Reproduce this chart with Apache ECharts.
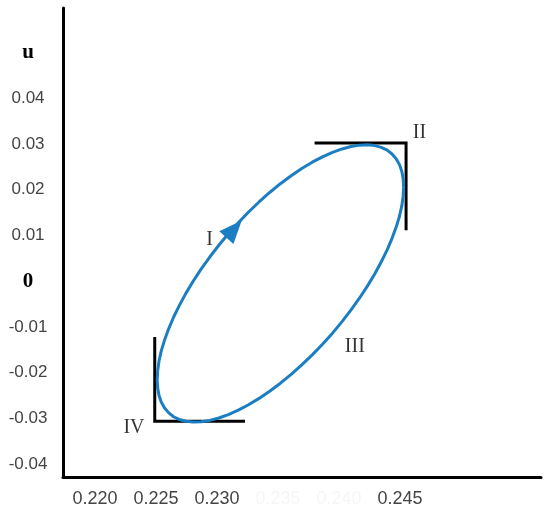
<!DOCTYPE html>
<html>
<head>
<meta charset="utf-8">
<style>
  html, body { margin: 0; padding: 0; background: #fff; }
  #chartcontainer { width: 550px; height: 516px; }
</style>
<script src="https://cdn.jsdelivr.net/npm/echarts@6/dist/echarts.min.js"></script>
</head>
<body>
<div id="chartcontainer"></div>
<script>
// loop points [x, u], going round the ellipse
const loopPoints = [
  [0.24530, 0.02055], [0.24526, 0.02237], [0.24515, 0.02401], [0.24496, 0.02547],
  [0.24469, 0.02673], [0.24435, 0.02779], [0.24395, 0.02863], [0.24347, 0.02924],
  [0.24294, 0.02963], [0.24234, 0.02980], [0.24169, 0.02973], [0.24099, 0.02943],
  [0.24025, 0.02890], [0.23947, 0.02815], [0.23865, 0.02718], [0.23781, 0.02600],
  [0.23695, 0.02462], [0.23608, 0.02305], [0.23520, 0.02130], [0.23432, 0.01938],
  [0.23345, 0.01731], [0.23259, 0.01511], [0.23175, 0.01278], [0.23093, 0.01036],
  [0.23015, 0.00785], [0.22941, 0.00528], [0.22871, 0.00267], [0.22806, 0.00003],
  [0.22746, -0.00261], [0.22693, -0.00524], [0.22645, -0.00783], [0.22605, -0.01036],
  [0.22571, -0.01282], [0.22544, -0.01519], [0.22525, -0.01744], [0.22514, -0.01957],
  [0.22510, -0.02155], [0.22514, -0.02337], [0.22525, -0.02501], [0.22544, -0.02647],
  [0.22571, -0.02773], [0.22605, -0.02879], [0.22645, -0.02963], [0.22693, -0.03024],
  [0.22746, -0.03063], [0.22806, -0.03080], [0.22871, -0.03073], [0.22941, -0.03043],
  [0.23015, -0.02990], [0.23093, -0.02915], [0.23175, -0.02818], [0.23259, -0.02700],
  [0.23345, -0.02562], [0.23432, -0.02405], [0.23520, -0.02230], [0.23608, -0.02038],
  [0.23695, -0.01831], [0.23781, -0.01611], [0.23865, -0.01378], [0.23947, -0.01136],
  [0.24025, -0.00885], [0.24099, -0.00628], [0.24169, -0.00367], [0.24234, -0.00103],
  [0.24294, 0.00161], [0.24347, 0.00424], [0.24395, 0.00683], [0.24435, 0.00936],
  [0.24469, 0.01182], [0.24496, 0.01419], [0.24515, 0.01644], [0.24526, 0.01857],
  [0.24530, 0.02055]
]
// corner brackets
const bracketIV = [[0.2249, -0.0122], [0.2249, -0.0306], [0.2323, -0.0306]]
const bracketII = [[0.2380, 0.0302], [0.2455, 0.0302], [0.2455, 0.0111]]
// direction arrow
const arrowPoint = [0.2314, 0.0114]
// region labels
const regionNames = ['I', 'II', 'III', 'IV']
const regionPos = [[0.2294, 0.0090], [0.2466, 0.0324], [0.2413, -0.0144], [0.2232, -0.0321]]
// tick labels
const xTicks = [0.220, 0.225, 0.230, 0.235, 0.240, 0.245]
const xFaint = [0.235, 0.240]
const yTicks = [-0.04, -0.03, -0.02, -0.01, 0, 0.01, 0.02, 0.03, 0.04, 0.05]
const yTitleAt = 0.05

const blue = '#1b7ec2'
const chart = echarts.init(document.getElementById('chartcontainer'))

chart.setOption({
  animation: false,
  grid: { left: 63, right: 9, top: 8, bottom: 39, containLabel: false },
  xAxis: {
    type: 'value',
    min: 0.21738,
    max: 0.25656,
    splitLine: { show: false },
    axisTick: { show: false },
    axisLine: { show: true, onZero: false, lineStyle: { color: '#000', width: 3 } },
    axisLabel: {
      customValues: xTicks,
      margin: 13,
      fontFamily: 'Liberation Sans',
      fontSize: 18,
      color: '#444',
      formatter: v => {
        const faint = xFaint.some(f => Math.abs(f - v) < 1e-9)
        return faint ? '{f|' + v.toFixed(3) + '}' : v.toFixed(3)
      },
      rich: { f: { color: '#f6f6f6', fontFamily: 'Liberation Sans', fontSize: 18 } }
    }
  },
  yAxis: {
    type: 'value',
    min: -0.0428,
    max: 0.0597,
    splitLine: { show: false },
    axisTick: { show: false },
    axisLine: { show: true, onZero: false, lineStyle: { color: '#000', width: 3 } },
    axisLabel: {
      customValues: yTicks,
      margin: 35,
      align: 'center',
      fontFamily: 'Liberation Sans',
      fontSize: 17,
      color: '#444',
      formatter: v => {
        if (Math.abs(v - yTitleAt) < 1e-9) return '{b|u}'
        if (Math.abs(v) < 1e-9) return '{b|0}'
        return v.toFixed(2)
      },
      rich: { b: { fontFamily: 'Liberation Serif', fontWeight: 'bold', fontSize: 21, color: '#000' } }
    }
  },
  series: [
    {
      name: 'loop',
      type: 'line',
      smooth: false,
      symbol: 'none',
      lineStyle: { color: blue, width: 3, join: 'round' },
      data: loopPoints,
      z: 3
    },
    {
      name: 'IV',
      type: 'line',
      symbol: 'none',
      lineStyle: { color: '#000', width: 3, join: 'miter' },
      data: bracketIV,
      z: 2
    },
    {
      name: 'II',
      type: 'line',
      symbol: 'none',
      lineStyle: { color: '#000', width: 3, join: 'miter' },
      data: bracketII,
      z: 2
    },
    {
      name: 'arrow',
      type: 'scatter',
      symbol: 'triangle',
      symbolSize: [19, 23],
      symbolRotate: -42,
      itemStyle: { color: blue, opacity: 1 },
      data: [arrowPoint],
      z: 4
    },
    {
      name: 'regions',
      type: 'scatter',
      symbolSize: 0,
      label: {
        show: true,
        position: 'inside',
        formatter: p => p.name,
        fontFamily: 'Liberation Serif',
        fontSize: 20,
        color: '#000'
      },
      data: regionNames.map((n, i) => ({ name: n, value: regionPos[i] }))
    }
  ]
})
</script>
</body>
</html>
